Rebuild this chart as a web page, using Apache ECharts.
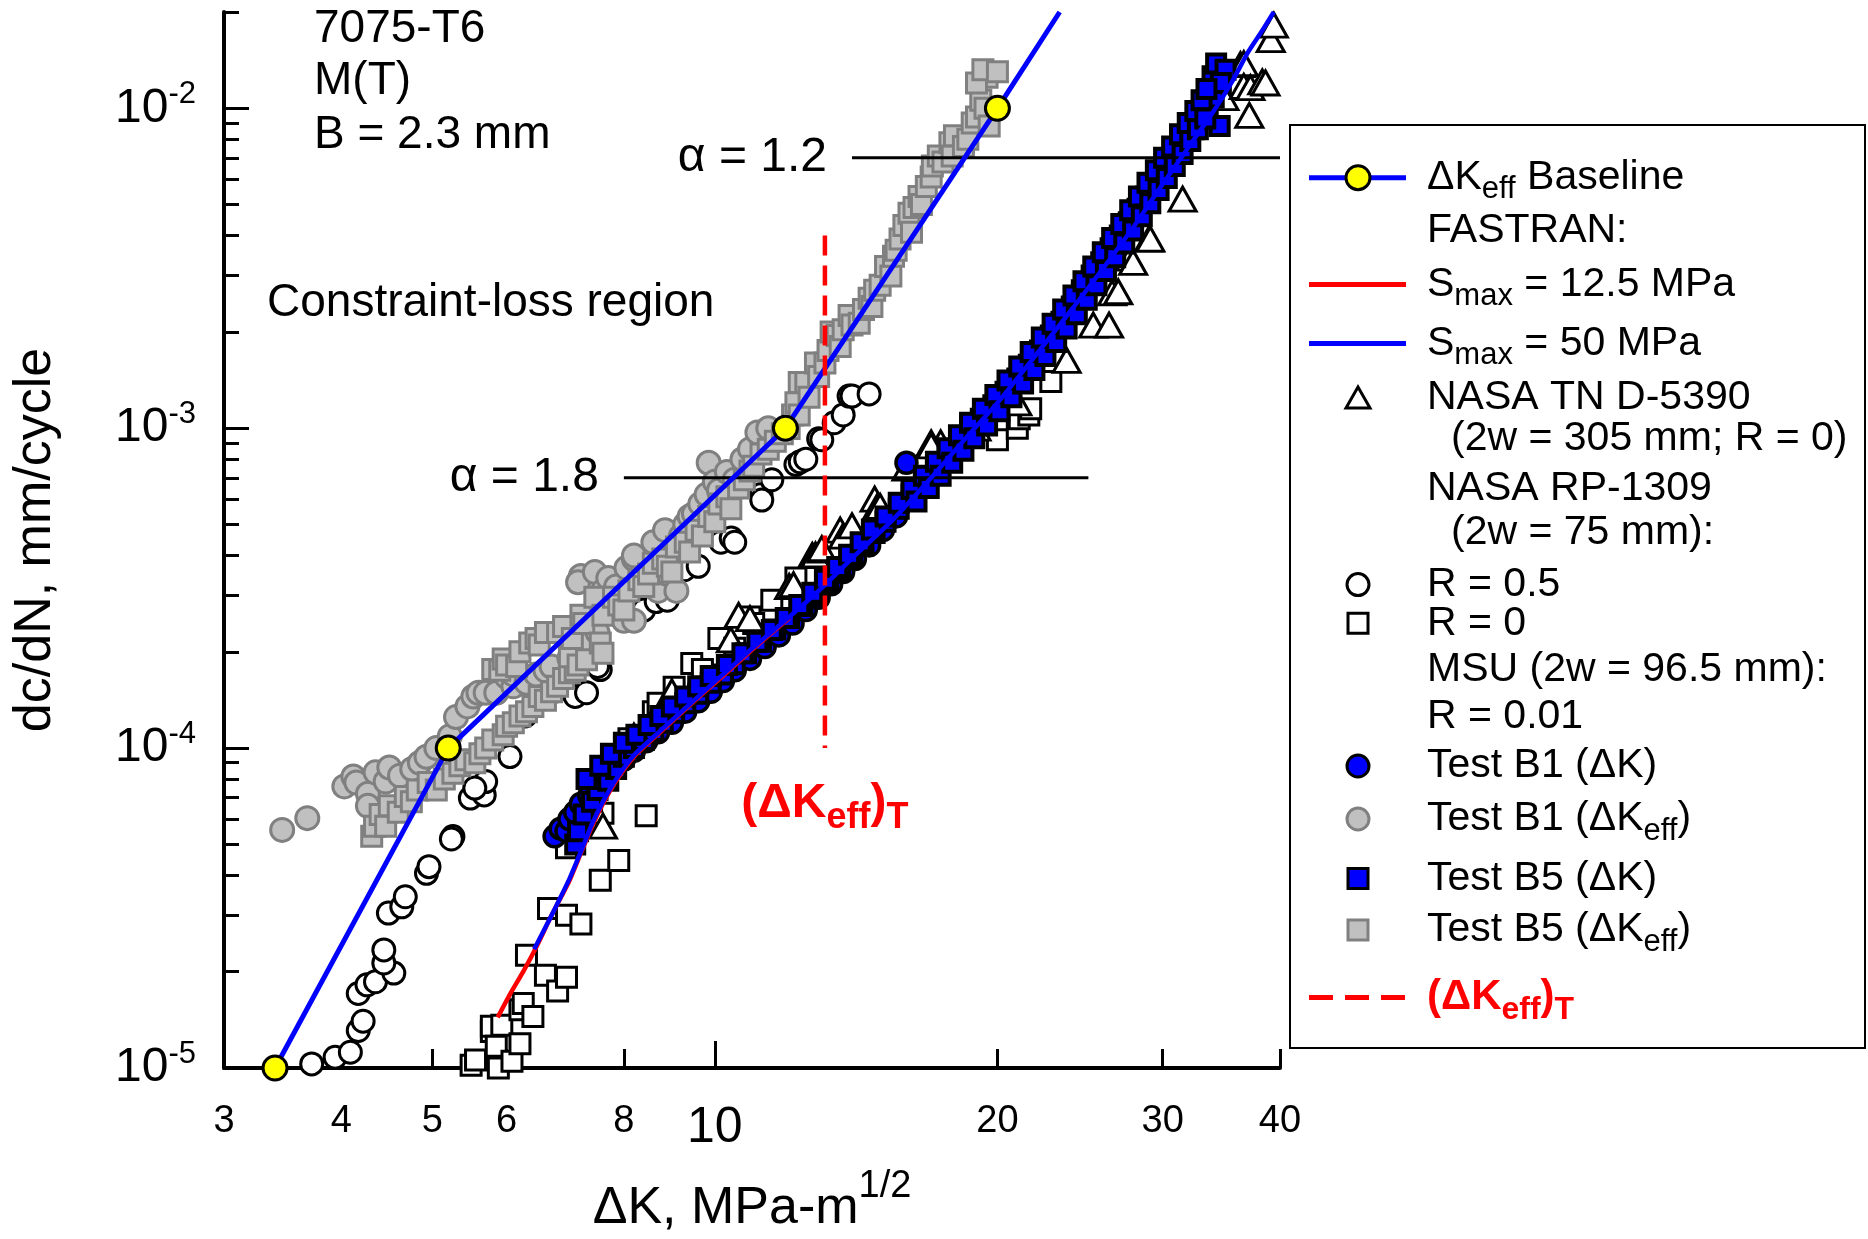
<!DOCTYPE html>
<html>
<head>
<meta charset="utf-8">
<script src="https://cdn.jsdelivr.net/npm/echarts@6/dist/echarts.min.js"></script>
<style>
  html, body { margin: 0; padding: 0; background: #ffffff; }
  #chart { width: 1868px; height: 1239px; }
</style>
</head>
<body>
<div id="chart"></div>
<script>
// ---- axis ticks / labels -------------------------------------------------
const xLabelValues = [3, 4, 5, 6, 8, 10, 20, 30, 40];
const xMajorTicks = [10];
const xMinorTicks = [3, 4, 5, 6, 8, 20, 30, 40];
const yLabelValues = [1e-5, 1e-4, 1e-3, 1e-2];
const yMinorTicks = [2e-5, 3e-5, 4e-5, 5e-5, 6e-5, 7e-5, 8e-5, 9e-5,
                     2e-4, 3e-4, 4e-4, 5e-4, 6e-4, 7e-4, 8e-4, 9e-4,
                     2e-3, 3e-3, 4e-3, 5e-3, 6e-3, 7e-3, 8e-3, 9e-3, 2e-2];

// ---- curves: [dK (MPa-m^1/2), dc/dN (mm/cycle)] -------------------------
const baselinePoints = [[3.40, 1e-5], [5.20, 1e-4], [11.89, 1e-3], [20.0, 1e-2]];
const baselineEnd = [23.3, 2e-2];

const fastran125 = [[5.87, 1.44e-5], [6.05, 1.7e-5], [6.25, 2.0e-5], [6.45, 2.38e-5], [6.7, 3.0e-5],
  [7.0, 3.85e-5], [7.2, 4.7e-5], [7.4, 5.7e-5], [7.6, 6.7e-5], [7.85, 7.9e-5], [8.2, 9.4e-5],
  [8.8, 1.14e-4], [9.5, 1.4e-4], [10.2, 1.68e-4], [11, 2.05e-4], [12, 2.55e-4]];

const fastran50 = [[6.42, 2.35e-5], [6.7, 3.0e-5], [7.0, 3.9e-5], [7.2, 4.75e-5], [7.4, 5.8e-5],
  [7.6, 6.8e-5], [7.85, 8.0e-5], [8.2, 9.5e-5], [8.8, 1.15e-4], [9.5, 1.41e-4], [10.2, 1.7e-4],
  [11, 2.07e-4], [12, 2.57e-4], [13, 3.17e-4], [14, 3.92e-4], [15.5, 5.2e-4], [17, 7.0e-4],
  [18.5, 9.3e-4], [20, 1.2e-3], [22, 1.7e-3], [24, 2.35e-3], [26, 3.2e-3], [28, 4.3e-3],
  [30, 5.8e-3], [32, 7.6e-3], [34, 9.8e-3], [35.5, 1.2e-2], [37, 1.5e-2], [38.3, 1.75e-2],
  [39.4, 2.0e-2]];

const alpha18Line = [[8, 7e-4], [25, 7e-4]];
const alpha12Line = [[14, 7e-3], [40, 7e-3]];
const alphaLabels = ['\u03b1 = 1.8', '\u03b1 = 1.2'];
const dKeffTLine = [[13.1, 4e-3], [13.1, 1e-4]];

// ---- test data -----------------------------------------------------------
// NASA TN D-5390 (2w = 305 mm; R = 0)
const nasaTN = [[7.6, 5.7e-5], [8.2, 1.09e-4], [9.0, 1.5e-4], [10.4, 2.18e-4], [10.6, 2.6e-4],
  [10.9, 2.54e-4], [12.0, 3.2e-4], [12.13, 3.24e-4], [12.7, 4.0e-4], [12.8, 4.02e-4],
  [13.0, 4.16e-4], [13.0, 4.2e-4], [13.6, 4.8e-4], [13.7, 4.6e-4], [14.0, 4.95e-4],
  [14.8, 6.0e-4], [14.9, 5.7e-4], [15.0, 5.7e-4], [16.0, 7.5e-4], [17.0, 9.0e-4], [17.4, 9.0e-4],
  [17.0, 8.8e-4], [19.0, 1.0e-3], [21.0, 1.2e-3], [23.7, 1.63e-3], [25.3, 2.1e-3], [26.3, 2.1e-3],
  [26.5, 2.65e-3], [26.9, 2.67e-3], [27.7, 3.4e-3], [27.9, 3.3e-3], [29.0, 3.9e-3], [29.1, 3.9e-3],
  [31.5, 5.2e-3], [34.9, 1.08e-2], [36.3, 1.37e-2], [36.6, 1.38e-2], [36.6, 1.17e-2],
  [37.1, 9.5e-3], [37.2, 1.16e-2], [38.3, 1.21e-2], [38.6, 1.2e-2], [39.1, 1.64e-2], [39.4, 1.82e-2]];

// NASA RP-1309 (2w = 75 mm), R = 0.5
const rp1309R05 = [[3.72, 1.03e-5], [3.94, 1.08e-5], [4.09, 1.12e-5], [4.17, 1.31e-5], [4.22, 1.40e-5],
  [4.17, 1.71e-5], [4.26, 1.82e-5], [4.35, 1.86e-5], [4.55, 1.98e-5], [4.44, 2.13e-5], [4.44, 2.34e-5],
  [4.49, 3.05e-5], [4.64, 3.19e-5], [4.68, 3.43e-5], [4.93, 4.06e-5], [4.96, 4.26e-5], [5.26, 5.29e-5],
  [5.24, 5.2e-5], [5.49, 6.98e-5], [5.68, 7.14e-5], [5.70, 7.86e-5], [5.55, 7.5e-5], [6.05, 9.41e-5],
  [6.28, 1.26e-4], [6.77, 1.51e-4], [7.1, 1.45e-4], [7.3, 1.49e-4], [7.55, 1.76e-4], [7.5, 1.8e-4],
  [8.4, 2.70e-4], [8.66, 2.87e-4], [8.9, 2.9e-4], [9.28, 3.61e-4], [9.6, 3.7e-4], [10.15, 4.4e-4],
  [10.41, 4.54e-4], [10.5, 4.4e-4], [11.2, 6.2e-4], [11.22, 5.96e-4], [11.5, 6.9e-4], [12.2, 7.7e-4],
  [12.33, 7.85e-4], [12.5, 8.0e-4], [12.9, 9.27e-4], [13.0, 9.2e-4], [13.4, 1.04e-3], [13.7, 1.10e-3],
  [13.9, 1.26e-3], [14.0, 1.26e-3], [14.6, 1.28e-3]];

// NASA RP-1309 (2w = 75 mm), R = 0
const rp1309R0 = [[5.5, 1.02e-5], [5.56, 1.06e-5], [5.78, 1.3e-5], [5.78, 1.35e-5], [5.85, 1.17e-5],
  [5.88, 1.0e-5], [5.93, 1.36e-5], [6.08, 1.05e-5], [6.2, 1.19e-5], [6.2, 1.52e-5], [6.25, 1.59e-5],
  [6.3, 2.25e-5], [6.4, 1.45e-5], [6.6, 1.95e-5], [6.8, 1.74e-5], [6.95, 1.92e-5], [6.65, 3.15e-5],
  [6.95, 3.0e-5], [7.2, 2.82e-5], [7.55, 3.86e-5], [7.9, 4.45e-5], [6.95, 4.88e-5], [7.6, 6.26e-5],
  [8.45, 6.15e-5], [8.1, 1.07e-4], [8.6, 1.3e-4], [8.7, 1.38e-4], [9.05, 1.55e-4], [9.45, 1.84e-4],
  [9.7, 1.76e-4], [10.1, 2.2e-4], [10.5, 2.05e-4], [10.9, 2.57e-4], [11.0, 2.45e-4], [11.5, 2.9e-4],
  [12.2, 3.4e-4], [20.0, 9.2e-4], [21.0, 1.0e-3], [21.1, 1.07e-3], [21.6, 1.1e-3], [21.7, 1.15e-3],
  [22.8, 1.4e-3]];

// MSU Test B1 (dKeff)
const b1Keff = [[3.46, 5.55e-5], [3.68, 6.04e-5], [4.03, 7.59e-5], [4.12, 8.15e-5], [4.15, 7.8e-5],
  [4.27, 7.2e-5], [4.27, 6.6e-5], [4.35, 8.4e-5], [4.46, 7.86e-5], [4.5, 8.7e-5], [4.62, 8.2e-5],
  [4.76, 8.6e-5], [4.85, 9.0e-5], [4.93, 9.4e-5], [5.05, 1.0e-4], [5.22, 1.09e-4], [5.3, 1.25e-4],
  [5.45, 1.35e-4], [5.53, 1.45e-4], [5.6, 1.49e-4], [5.7, 1.49e-4], [5.85, 1.49e-4], [6.0, 1.67e-4],
  [6.1, 1.56e-4], [6.1, 1.7e-4], [6.3, 1.6e-4], [6.45, 1.7e-4], [6.6, 1.75e-4], [6.7, 1.8e-4],
  [7.0, 1.91e-4], [7.05, 2.05e-4], [7.3, 2.1e-4], [7.5, 2.3e-4], [7.2, 3.45e-4], [7.15, 3.3e-4],
  [7.45, 3.55e-4], [7.6, 3.1e-4], [7.7, 3.4e-4], [7.85, 3.2e-4], [7.9, 2.7e-4], [8.0, 2.5e-4],
  [8.05, 3.66e-4], [8.2, 3.9e-4], [8.2, 2.5e-4], [8.2, 4.0e-4], [8.4, 3.4e-4], [8.6, 4.4e-4],
  [8.7, 3.1e-4], [8.85, 4.8e-4], [8.9, 3.5e-4], [9.1, 3.1e-4], [9.2, 4.6e-4], [9.3, 5.0e-4],
  [9.4, 5.3e-4], [9.5, 5.4e-4], [9.65, 5.8e-4], [9.8, 6.2e-4], [9.85, 7.8e-4], [10.0, 6.8e-4],
  [10.1, 6.4e-4], [10.3, 7.3e-4], [10.5, 6.9e-4], [10.7, 8.0e-4], [10.9, 8.6e-4], [11.1, 9.7e-4],
  [11.4, 1.0e-3]];

// MSU Test B5 (dKeff)
const b5Keff = [[4.31, 5.3e-5], [4.34, 5.7e-5], [4.4, 6.2e-5], [4.46, 5.7e-5], [4.5, 6.6e-5],
  [4.6, 6.3e-5], [4.68, 7.06e-5], [4.75, 6.8e-5], [4.82, 7.4e-5], [4.95, 7.8e-5], [5.05, 7.4e-5],
  [5.15, 8.0e-5], [5.26, 8.35e-5], [5.35, 8.8e-5], [5.43, 9.2e-5], [5.55, 9.0e-5], [5.62, 9.6e-5],
  [5.7, 1.0e-4], [5.8, 1.06e-4], [5.95, 1.1e-4], [6.0, 1.17e-4], [6.1, 1.2e-4], [6.2, 1.26e-4],
  [6.3, 1.3e-4], [6.4, 1.35e-4], [6.5, 1.45e-4], [6.6, 1.41e-4], [6.7, 1.5e-4], [6.8, 1.56e-4],
  [6.9, 1.65e-4], [7.0, 1.72e-4], [7.1, 1.75e-4], [5.8, 1.76e-4], [5.9, 1.75e-4], [5.95, 1.9e-4],
  [6.0, 1.82e-4], [6.15, 1.8e-4], [6.2, 2.0e-4], [6.35, 2.13e-4], [6.45, 2.2e-4], [6.5, 2.1e-4],
  [6.6, 2.3e-4], [6.8, 2.3e-4], [6.9, 2.4e-4], [7.0, 1.93e-4], [7.05, 2.2e-4], [7.15, 1.82e-4],
  [7.2, 2.6e-4], [7.25, 2.45e-4], [7.3, 1.89e-4], [7.45, 2.96e-4], [7.55, 2.13e-4], [7.6, 1.98e-4],
  [7.6, 2.6e-4], [7.8, 2.96e-4], [7.9, 2.8e-4], [8.0, 2.7e-4], [8.1, 3.1e-4], [8.3, 3.36e-4],
  [8.4, 3.2e-4], [8.5, 3.5e-4], [8.6, 3.78e-4], [8.8, 3.9e-4], [8.9, 3.7e-4], [9.0, 3.55e-4],
  [9.1, 4.25e-4], [9.3, 4.4e-4], [9.4, 4.1e-4], [9.55, 4.8e-4], [9.7, 4.6e-4], [9.85, 5.3e-4],
  [10.0, 5.1e-4], [10.1, 5.8e-4], [10.3, 6.1e-4], [10.4, 5.6e-4], [10.6, 6.5e-4], [10.75, 6.9e-4],
  [10.9, 7.35e-4], [11.0, 7.6e-4], [11.2, 8.3e-4], [11.4, 8.6e-4], [11.6, 9.1e-4], [11.8, 9.6e-4],
  [12.0, 9.97e-4], [12.1, 1.1e-3], [12.2, 1.2e-3], [12.3, 1.1e-3], [12.3, 1.39e-3], [12.5, 1.39e-3],
  [12.6, 1.25e-3], [12.8, 1.6e-3], [12.9, 1.45e-3], [13.1, 1.6e-3], [13.2, 1.75e-3], [13.3, 2.0e-3],
  [13.5, 1.95e-3], [13.6, 1.8e-3], [13.7, 2.03e-3], [13.9, 2.25e-3], [14.0, 2.1e-3], [14.25, 2.13e-3],
  [14.4, 2.35e-3], [14.6, 2.55e-3], [14.7, 2.4e-3], [14.8, 2.7e-3], [15.0, 2.8e-3], [15.2, 3.2e-3],
  [15.4, 2.99e-3], [15.5, 3.45e-3], [15.6, 3.6e-3], [15.75, 3.9e-3], [15.9, 4.3e-3], [16.1, 4.7e-3],
  [16.2, 4.1e-3], [16.3, 4.9e-3], [16.5, 5.3e-3], [16.6, 5.0e-3], [16.8, 5.7e-3], [17.0, 6.1e-3],
  [17.05, 6.6e-3], [17.3, 7.1e-3], [17.5, 6.8e-3], [17.8, 7.8e-3], [17.9, 7.1e-3], [18.0, 8.2e-3],
  [18.4, 7.6e-3], [18.6, 8.0e-3], [18.8, 9.0e-3], [19.0, 9.4e-3], [19.2, 1.06e-2], [19.4, 1.0e-2],
  [19.5, 1.25e-2], [19.6, 8.8e-3], [19.0, 1.2e-2], [19.3, 1.32e-2], [20.0, 1.3e-2]];

// MSU Test B1 (dK)
const b1K = [[6.75, 5.3e-5], [6.85, 5.6e-5], [6.95, 5.5e-5], [7.0, 6.0e-5], [7.1, 6.3e-5], [7.2, 6.7e-5],
  [7.35, 7.1e-5], [7.5, 7.6e-5], [7.65, 8.1e-5], [7.8, 8.6e-5], [8.0, 9.2e-5], [8.2, 9.8e-5],
  [8.45, 1.05e-4], [8.7, 1.12e-4], [9.0, 1.2e-4], [9.3, 1.3e-4], [9.6, 1.4e-4], [9.9, 1.5e-4],
  [10.2, 1.62e-4], [10.5, 1.75e-4], [10.9, 1.9e-4], [11.3, 2.07e-4], [11.7, 2.25e-4], [12.1, 2.45e-4],
  [12.5, 2.7e-4], [12.9, 2.95e-4], [13.3, 3.25e-4], [13.7, 3.55e-4], [14.1, 3.9e-4], [14.6, 4.3e-4],
  [15.1, 4.8e-4], [15.6, 5.3e-4], [16.0, 7.8e-4]];

// MSU Test B5 (dK)
const b5K = [[7.1, 5.0e-5], [7.15, 5.5e-5], [7.25, 6.2e-5], [7.4, 6.8e-5], [7.5, 7.4e-5], [7.7, 7.9e-5],
  [7.85, 8.6e-5], [8.0, 9.4e-5], [8.2, 1.0e-4], [8.4, 1.06e-4], [8.6, 1.13e-4], [8.8, 1.2e-4],
  [9.05, 1.29e-4], [9.3, 1.38e-4], [9.6, 1.48e-4], [9.9, 1.6e-4], [10.2, 1.7e-4], [10.5, 1.83e-4],
  [10.8, 1.98e-4], [11.2, 2.15e-4], [11.6, 2.35e-4], [12.0, 2.55e-4], [12.4, 2.78e-4], [12.8, 3.0e-4],
  [13.2, 3.3e-4], [13.6, 3.6e-4], [14.0, 3.95e-4], [14.4, 4.3e-4], [14.8, 4.7e-4], [15.2, 5.1e-4],
  [15.7, 5.6e-4], [16.2, 6.2e-4], [16.7, 6.8e-4], [17.2, 7.5e-4], [17.7, 8.2e-4], [18.2, 9.0e-4],
  [18.7, 9.8e-4], [19.2, 1.07e-3], [19.8, 1.18e-3], [20.4, 1.3e-3], [21.0, 1.43e-3], [21.6, 1.58e-3],
  [22.2, 1.75e-3], [22.8, 1.95e-3], [23.4, 2.15e-3], [24.0, 2.4e-3], [24.6, 2.7e-3], [25.2, 3.0e-3],
  [25.8, 3.3e-3], [26.4, 3.65e-3], [27.0, 4.0e-3], [27.6, 4.4e-3], [28.2, 4.85e-3], [28.8, 5.3e-3],
  [29.4, 5.8e-3], [30.0, 6.3e-3], [30.6, 6.8e-3], [31.2, 7.4e-3], [31.8, 8.0e-3], [32.4, 8.6e-3],
  [33.0, 9.3e-3], [33.5, 1.0e-2], [34.0, 1.08e-2], [34.5, 8.8e-3], [33.9, 1.26e-2], [34.2, 1.38e-2],
  [35.0, 1.32e-2], [34.6, 1.2e-2],
  [7.3, 8.0e-5], [7.55, 8.8e-5], [7.75, 9.6e-5], [8.0, 1.04e-4], [8.25, 1.1e-4], [8.5, 1.18e-4],
  [8.75, 1.26e-4], [9.0, 1.35e-4], [9.3, 1.45e-4], [9.6, 1.56e-4], [9.9, 1.68e-4], [10.3, 1.82e-4],
  [10.7, 1.98e-4], [11.1, 2.15e-4], [11.5, 2.34e-4], [11.9, 2.55e-4], [12.3, 2.8e-4], [12.7, 3.06e-4],
  [13.1, 3.36e-4], [13.5, 3.68e-4], [13.9, 4.02e-4], [14.3, 4.4e-4], [14.7, 4.82e-4], [15.2, 5.3e-4],
  [15.7, 5.85e-4], [16.2, 6.45e-4], [16.7, 7.1e-4], [17.2, 7.85e-4], [17.7, 8.65e-4], [18.2, 9.5e-4],
  [18.7, 1.04e-3], [19.3, 1.15e-3], [19.9, 1.27e-3], [20.5, 1.41e-3], [21.1, 1.56e-3], [21.7, 1.73e-3],
  [22.3, 1.92e-3], [22.9, 2.12e-3], [23.5, 2.35e-3], [24.1, 2.6e-3], [24.7, 2.88e-3], [25.3, 3.2e-3],
  [25.9, 3.55e-3], [26.5, 3.93e-3], [27.1, 4.35e-3], [27.7, 4.8e-3], [28.3, 5.3e-3], [28.9, 5.85e-3],
  [29.5, 6.4e-3], [30.1, 7.0e-3], [30.7, 7.6e-3], [31.3, 8.3e-3], [31.9, 9.0e-3], [32.5, 9.8e-3],
  [33.0, 1.06e-2], [33.4, 1.15e-2],
  [16.4, 5.9e-4], [16.9, 6.5e-4], [17.4, 7.1e-4], [17.9, 7.8e-4], [18.4, 8.5e-4], [18.9, 9.3e-4],
  [19.5, 1.02e-3], [20.1, 1.13e-3], [20.7, 1.25e-3], [21.3, 1.38e-3], [21.9, 1.52e-3], [22.5, 1.68e-3],
  [23.1, 1.86e-3], [23.7, 2.05e-3], [24.3, 2.27e-3], [24.9, 2.52e-3], [25.5, 2.8e-3], [26.1, 3.1e-3],
  [26.7, 3.42e-3], [27.3, 3.78e-3], [27.9, 4.15e-3], [28.5, 4.6e-3], [29.1, 5.05e-3], [29.7, 5.55e-3],
  [30.3, 6.05e-3], [30.9, 6.6e-3], [31.5, 7.2e-3], [32.1, 7.9e-3], [32.7, 8.6e-3], [33.3, 9.3e-3]];

// ---- styling -------------------------------------------------------------
const FONT = '"Liberation Sans", Arial, Helvetica, sans-serif';
const BLUE = '#0000ff';
const RED = '#ff0000';
const GRAY_FILL = '#c0c0c0';
const GRAY_EDGE = '#808080';

function scatter(name, data, symbol, size, fill, edge, bw) {
  return {
    name, type: 'scatter', data, symbol, symbolSize: size,
    itemStyle: { color: fill, borderColor: edge, borderWidth: bw || 3, opacity: 1 },
    emphasis: { disabled: true }, silent: true, animation: false
  };
}

function alphaSeries(points, text) {
  return {
    type: 'line', data: points.map((p, i) => i === 0
      ? { value: p, label: { show: true, position: 'left', distance: 25, formatter: text,
          fontFamily: FONT, fontSize: 48, color: '#000' } }
      : { value: p }),
    symbol: 'circle', symbolSize: 0, showSymbol: true,
    lineStyle: { color: '#000', width: 3 },
    itemStyle: { color: '#000' },
    emphasis: { disabled: true }, silent: true, animation: false
  };
}

const chart = echarts.init(document.getElementById('chart'), null, { renderer: 'canvas' });

// ---- legend panel ---------------------------------------------------------
const LX = 1290, LY = 125, LW = 575, LH = 923;
const symX = 1358, lineX0 = 1309, lineX1 = 1406, textX = 1427, indentX = 1451;
const legRich = {
  t: { fontFamily: FONT, fontSize: 41, fill: '#000', color: '#000' },
  s: { fontFamily: FONT, fontSize: 31, fill: '#000', color: '#000', padding: [24, 0, 0, 0] },
  r: { fontFamily: FONT, fontSize: 42, fontWeight: 'bold', fill: RED, color: RED },
  rs: { fontFamily: FONT, fontSize: 32, fontWeight: 'bold', fill: RED, color: RED, padding: [26, 0, 0, 0] }
};
function legText(x, y, text) {
  return { type: 'text', silent: true, z: 101,
    style: { x, y, text, rich: legRich, align: 'left', verticalAlign: 'middle',
      textAlign: 'left', textVerticalAlign: 'middle' } };
}
function legLine(y, color, dash) {
  return { type: 'line', silent: true, z: 101,
    shape: { x1: lineX0, y1: y, x2: lineX1, y2: y },
    style: { stroke: color, lineWidth: 5, lineDash: dash || null } };
}
function legCircle(y, fill, stroke, r) {
  return { type: 'circle', silent: true, z: 102, shape: { cx: symX, cy: y, r: r || 11 },
    style: { fill, stroke, lineWidth: 3 } };
}
function legSquare(y, fill, stroke) {
  return { type: 'rect', silent: true, z: 102, shape: { x: symX - 10, y: y - 10, width: 20, height: 20 },
    style: { fill, stroke, lineWidth: 3 } };
}
const rows = [177.7, 230.8, 284.6, 343.5, 398, 438.5, 488.5, 532.7, 584.6, 623.3, 669.7, 716.8, 766, 819, 878.6, 930, 997.5];
const legendGraphics = [
  { type: 'rect', silent: true, z: 100, shape: { x: LX, y: LY, width: LW, height: LH },
    style: { fill: '#fff', stroke: '#000', lineWidth: 2 } },
  legLine(rows[0], BLUE), legCircle(rows[0], '#ffff00', '#000', 12),
  legText(textX, rows[0], '{t|\u0394K}{s|eff}{t| Baseline}'),
  legText(textX, rows[1], '{t|FASTRAN:}'),
  legLine(rows[2], RED), legText(textX, rows[2], '{t|S}{s|max}{t| = 12.5 MPa}'),
  legLine(rows[3], BLUE), legText(textX, rows[3], '{t|S}{s|max}{t| = 50 MPa}'),
  { type: 'polygon', silent: true, z: 102,
    shape: { points: [[symX - 12, rows[4] + 10], [symX + 12, rows[4] + 10], [symX, rows[4] - 11]] },
    style: { fill: '#fff', stroke: '#000', lineWidth: 3 } },
  legText(textX, rows[4], '{t|NASA TN D-5390}'),
  legText(indentX, rows[5], '{t|(2w = 305 mm; R = 0)}'),
  legText(textX, rows[6], '{t|NASA RP-1309}'),
  legText(indentX, rows[7], '{t|(2w = 75 mm):}'),
  legCircle(rows[8], '#fff', '#000'), legText(textX, rows[8], '{t|R = 0.5}'),
  legSquare(rows[9], '#fff', '#000'), legText(textX, rows[9], '{t|R = 0}'),
  legText(textX, rows[10], '{t|MSU (2w = 96.5 mm):}'),
  legText(textX, rows[11], '{t|R = 0.01}'),
  legCircle(rows[12], BLUE, '#000'), legText(textX, rows[12], '{t|Test B1 (\u0394K)}'),
  legCircle(rows[13], GRAY_FILL, GRAY_EDGE), legText(textX, rows[13], '{t|Test B1 (\u0394K}{s|eff}{t|)}'),
  legSquare(rows[14], BLUE, '#000'), legText(textX, rows[14], '{t|Test B5 (\u0394K)}'),
  legSquare(rows[15], GRAY_FILL, GRAY_EDGE), legText(textX, rows[15], '{t|Test B5 (\u0394K}{s|eff}{t|)}'),
  legLine(rows[16], RED, [24, 12]), legText(textX, rows[16], '{r|(\u0394K}{rs|eff}{r|)}{rs|T}')
];

// ---- annotations inside the plot ------------------------------------------
function note(x, y, text) {
  return { type: 'text', silent: true, z: 50,
    style: { x, y, text, fontFamily: FONT, fontSize: 46, fill: '#000',
      align: 'left', verticalAlign: 'middle', textAlign: 'left', textVerticalAlign: 'middle' } };
}
const notes = [
  note(314, 29, '7075-T6'),
  note(314, 81, 'M(T)'),
  note(314, 135, 'B = 2.3 mm'),
  note(267, 303, 'Constraint-loss region')
];

const option = {
  backgroundColor: '#ffffff',
  animation: false,
  textStyle: { fontFamily: FONT },
  grid: { left: 224, right: 588, top: 12, bottom: 171, containLabel: false, outerBoundsMode: 'none' },
  xAxis: [
    {
      type: 'log', logBase: 10, min: 3, max: 40, position: 'bottom',
      name: '{t|\u0394K, MPa-m}{p|1/2}', nameLocation: 'middle', nameGap: 100,
      nameTextStyle: { fontFamily: FONT, fontSize: 52, color: '#000',
        rich: { t: { fontFamily: FONT, fontSize: 52, color: '#000' },
                p: { fontFamily: FONT, fontSize: 38, color: '#000', padding: [0, 0, 44, 0] } } },
      axisLine: { show: true, onZero: false, lineStyle: { color: '#000', width: 4 } },
      axisTick: { show: true, inside: true, length: 27, customValues: xMajorTicks,
        lineStyle: { color: '#000', width: 3 } },
      minorTick: { show: false },
      axisLabel: { show: true, margin: 35, customValues: xLabelValues,
        formatter: v => (v === 10 ? '{big|10}' : '{n|' + v + '}'),
        rich: { n: { fontFamily: FONT, fontSize: 38, color: '#000' },
                big: { fontFamily: FONT, fontSize: 50, color: '#000' } } },
      splitLine: { show: false }
    },
    {
      type: 'log', logBase: 10, min: 3, max: 40, position: 'bottom', gridIndex: 0,
      axisLine: { show: false },
      axisTick: { show: true, inside: true, length: 19, customValues: xMinorTicks,
        lineStyle: { color: '#000', width: 3 } },
      axisLabel: { show: false },
      splitLine: { show: false }
    }
  ],
  yAxis: [
    {
      type: 'log', logBase: 10, min: 1e-5, max: 2e-2, position: 'left',
      name: 'dc/dN, mm/cycle', nameLocation: 'middle', nameGap: 162, nameRotate: 90,
      nameTextStyle: { fontFamily: FONT, fontSize: 52, color: '#000' },
      axisLine: { show: true, onZero: false, lineStyle: { color: '#000', width: 4 } },
      axisTick: { show: true, inside: true, length: 25, customValues: yLabelValues,
        lineStyle: { color: '#000', width: 3 } },
      axisLabel: { show: true, margin: 28, customValues: yLabelValues,
        formatter: v => '{b|10}{s|' + Math.round(Math.log10(v)) + '}',
        rich: { b: { fontFamily: FONT, fontSize: 48, color: '#000' },
                s: { fontFamily: FONT, fontSize: 31, color: '#000', padding: [0, 0, 28, 0] } } },
      splitLine: { show: false }
    },
    {
      type: 'log', logBase: 10, min: 1e-5, max: 2e-2, position: 'left', gridIndex: 0,
      axisLine: { show: false },
      axisTick: { show: true, inside: true, length: 15, customValues: yMinorTicks,
        lineStyle: { color: '#000', width: 3 } },
      axisLabel: { show: false },
      splitLine: { show: false }
    }
  ],
  graphic: notes.concat(legendGraphics),
  series: [
    alphaSeries(alpha18Line, alphaLabels[0]),
    alphaSeries(alpha12Line, alphaLabels[1]),
    { name: 'S_max = 12.5 MPa', type: 'line', data: fastran125, smooth: 0.2, showSymbol: false,
      lineStyle: { color: RED, width: 4.5 }, emphasis: { disabled: true }, silent: true },
    { name: 'S_max = 50 MPa', type: 'line', data: fastran50, smooth: 0.2, showSymbol: false,
      lineStyle: { color: BLUE, width: 4.5 }, emphasis: { disabled: true }, silent: true },
    scatter('R = 0.5', rp1309R05, 'circle', 22, '#ffffff', '#000000'),
    scatter('R = 0', rp1309R0, 'rect', 20, '#ffffff', '#000000'),
    scatter('NASA TN D-5390', nasaTN, 'triangle', [27, 24], '#ffffff', '#000000'),
    scatter('Test B1 (dKeff)', b1Keff, 'circle', 23, GRAY_FILL, GRAY_EDGE),
    scatter('Test B5 (dKeff)', b5Keff, 'rect', 20, GRAY_FILL, GRAY_EDGE),
    scatter('Test B1 (dK)', b1K, 'circle', 21, BLUE, '#000000', 3.5),
    scatter('Test B5 (dK)', b5K, 'rect', 18, BLUE, '#000000', 4),
    { name: 'dKeff Baseline', type: 'line',
      data: baselinePoints.map(p => ({ value: p })).concat([{ value: baselineEnd, symbol: 'none' }]),
      symbol: 'circle', symbolSize: 24, showSymbol: true,
      lineStyle: { color: BLUE, width: 5 },
      itemStyle: { color: '#ffff00', borderColor: '#000', borderWidth: 3 },
      emphasis: { disabled: true }, silent: true },
    { name: '(dKeff)T', type: 'line',
      data: dKeffTLine.map((p, i) => i === 1
        ? { value: p, label: { show: true, position: 'bottom', distance: 24,
            formatter: '{r|(\u0394K}{rs|eff}{r|)}{rs|T}',
            rich: { r: { fontFamily: FONT, fontSize: 48, fontWeight: 'bold', color: RED },
                    rs: { fontFamily: FONT, fontSize: 36, fontWeight: 'bold', color: RED, padding: [28, 0, 0, 0] } } } }
        : { value: p }),
      symbol: 'circle', symbolSize: 0, showSymbol: true,
      lineStyle: { color: RED, width: 4.5, type: [20, 10] },
      itemStyle: { color: RED },
      emphasis: { disabled: true }, silent: true }
  ]
};

chart.setOption(option);
</script>
</body>
</html>
